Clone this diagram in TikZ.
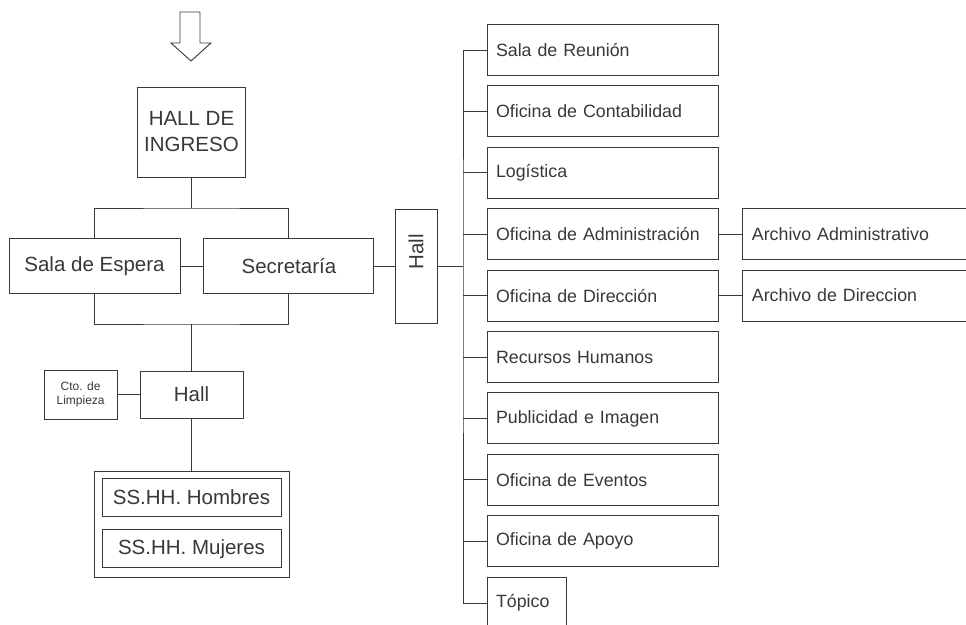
\documentclass[tikz,border=0pt]{standalone}
\usepackage{fontspec}
\setmainfont{Liberation Sans}
\usetikzlibrary{positioning}

\begin{document}
\begin{tikzpicture}[x=1pt, y=-1pt, color=black!78]
% Define styles
\tikzstyle{room}=[rectangle, draw, line width=0.9pt, inner sep=0pt, font=\fontsize{20.5}{26}\selectfont]
\tikzstyle{office}=[rectangle, draw, line width=0.9pt, minimum height=51pt, inner xsep=9pt, inner ysep=0pt, text width=213pt, align=left, font=\fontsize{17.8}{21}\selectfont]
\tikzstyle{small}=[rectangle, draw, line width=0.9pt, inner sep=0pt, align=center, font=\fontsize{12}{14}\selectfont]
\tikzstyle{link}=[line width=0.9pt]
\useasboundingbox (0,0) rectangle (966,624);
\clip (0,0) rectangle (966,624);
% Entrance arrow
\draw[link] (180,12) -- (200,12) -- (200,43) -- (211,43) -- (191,61) -- (171,43) -- (180,43) -- cycle;
% Place nodes
\node[room, minimum width=108pt, minimum height=90pt, align=center] (ingreso) at (191.5,132) {HALL DE\\INGRESO};
\node[room, minimum width=171pt, minimum height=55pt] (espera) at (94.5,266) {Sala de Espera};
\node[room, minimum width=170pt, minimum height=55pt, right=23pt of espera] (secretaria) {Secretaría};
\coordinate (jtop) at (191.5,208);
\coordinate (jbot) at (191.5,324);
\node[room, minimum width=103pt, minimum height=47pt] (hall) at (191.5,394.5) {Hall};
\node[small, minimum width=73pt, minimum height=49pt, left=22pt of hall] (limpieza) {Cto. de\\Limpieza};
\node[room, minimum width=195pt, minimum height=106pt] (sshh) at (191.5,524) {};
\node[room, minimum width=179pt, minimum height=38pt] (hombres) at (191.5,497) {SS.HH. Hombres};
\node[room, minimum width=179pt, minimum height=38pt, below=13pt of hombres] (mujeres) {SS.HH. Mujeres};
\node[room, minimum width=42pt, minimum height=114pt] (hallr) at (416,266) {};
\node[rotate=90, font=\fontsize{20.5}{24}\selectfont] (hallrtext) at ([yshift=14pt]hallr.center) {Hall};
\foreach \txt [count=\i] in {Sala de Reunión, Oficina de Contabilidad, Logística, Oficina de Administración, Oficina de Dirección, Recursos Humanos, Publicidad e Imagen, Oficina de Eventos, Oficina de Apoyo}
  \node[office] (of\i) at (602.5, {50+61.4*(\i-1)}) {\txt};
\node[office, text width=61pt] (topico) at (526.5,603) {Tópico};
\node[office, right=24pt of of4] (archadm) {Archivo Administrativo};
\node[office, right=24pt of of5] (archdir) {Archivo de Direccion};
\coordinate (spine) at (463,266);
% Draw connectors
\draw[link] (ingreso) -- (jtop);
\draw[link] (espera.north) |- (jtop) -| (secretaria.north);
\draw[link] (espera.south) |- (jbot) -| (secretaria.south);
\draw[link] (espera) -- (secretaria);
\draw[link] (jbot) -- (hall);
\draw[link] (limpieza) -- (hall);
\draw[link] (hall) -- (sshh);
\draw[link] (secretaria) -- (hallr);
\draw[link] (hallr) -- (spine);
\draw[link] (of1.west) -| (spine) |- (topico.west);
\foreach \i in {2,...,9} \draw[link] (of\i.west) -- (of\i.west -| spine);
\draw[link] (of4) -- (archadm);
\draw[link] (of5) -- (archdir);
\end{tikzpicture}
\end{document}
